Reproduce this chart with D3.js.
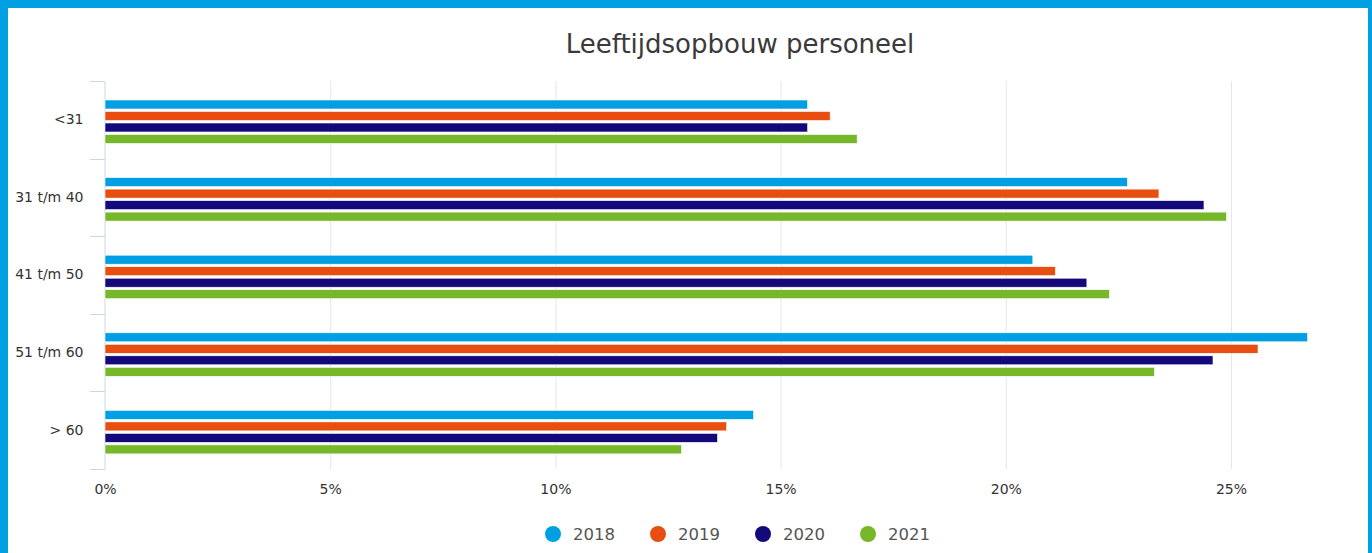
<!DOCTYPE html>
<html><head><meta charset="utf-8">
<script src="https://cdn.jsdelivr.net/npm/d3@7"></script>
<style>
html,body{margin:0;padding:0;background:#fff;}
svg{display:block;}
</style></head>
<body>
<svg id="c" width="1372" height="553"></svg>
<script>
const title = "Leeftijdsopbouw personeel";
const categories = ["<31", "31 t/m 40", "41 t/m 50", "51 t/m 60", "> 60"];
const seriesNames = ["2018", "2019", "2020", "2021"];
const s2018 = [15.6, 22.7, 20.6, 26.7, 14.4];
const s2019 = [16.1, 23.4, 21.1, 25.6, 13.8];
const s2020 = [15.6, 24.4, 21.8, 24.6, 13.6];
const s2021 = [16.7, 24.9, 22.3, 23.3, 12.8];
const xTicks = [0, 5, 10, 15, 20, 25];
const colors = ["#009fe3", "#e84e0f", "#14097a", "#76b82a"];

const series = [s2018, s2019, s2020, s2021];
const svg = d3.select("#c");
const font = "'DejaVu Sans', Verdana, sans-serif";

// border
svg.append("rect").attr("x",0).attr("y",0).attr("width",1372).attr("height",553).attr("fill","#00a0e3");
svg.append("rect").attr("x",8).attr("y",8).attr("width",1360).attr("height",545).attr("fill","#fff");

const x = d3.scaleLinear().domain([0,25]).range([105,1231]);
const y = d3.scaleBand().domain(categories).range([81,469]);
const yInner = d3.scaleBand().domain(seriesNames).range([19, 62.5]).paddingInner(2.5/11.5).paddingOuter(0);

svg.append("text").attr("x",740).attr("y",53).attr("text-anchor","middle")
  .attr("font-family",font).attr("font-size",26).attr("fill","#3a3a3a").text(title);

// gridlines
svg.append("g").selectAll("line").data(xTicks.slice(1)).join("line")
  .attr("x1",d=>x(d)+0.5).attr("x2",d=>x(d)+0.5).attr("y1",81).attr("y2",469)
  .attr("stroke","#e6e6e6").attr("stroke-width",1);

// x axis labels
const xAxis = d3.axisBottom(x).tickValues(xTicks).tickSize(0).tickPadding(0).tickFormat(d=>d+"%");
const gx = svg.append("g").attr("transform","translate(0,484)").call(xAxis);
gx.select(".domain").remove();
gx.selectAll("text").attr("font-family",font).attr("font-size",14).attr("fill","#333");

// y axis
const yAxis = d3.axisLeft(y).tickSize(0).tickPadding(21);
const gy = svg.append("g").attr("transform","translate(104.5,0)").call(yAxis);
gy.select(".domain").attr("stroke","#ccd6eb");
gy.selectAll("text").attr("font-family",font).attr("font-size",14).attr("fill","#333");
// band boundary ticks
const bounds = categories.map(c=>y(c)).concat([y.range()[1]]);
svg.append("g").selectAll("line").data(bounds).join("line")
  .attr("x1",90).attr("x2",105).attr("y1",d=>Math.round(d)+0.5).attr("y2",d=>Math.round(d)+0.5)
  .attr("stroke","#ccd6eb").attr("stroke-width",1);

// bars
series.forEach((vals,si)=>{
  svg.append("g").selectAll("rect").data(vals).join("rect")
    .attr("x",x(0)).attr("y",(d,i)=>y(categories[i])+yInner(seriesNames[si]))
    .attr("width",d=>x(d)-x(0)).attr("height",yInner.bandwidth())
    .attr("fill",colors[si]).attr("stroke","#fff").attr("stroke-width",0.6);
});

// legend
const legX = [553, 658, 763, 868];
const lg = svg.append("g").selectAll("g").data(seriesNames).join("g")
  .attr("transform",(d,i)=>`translate(${legX[i]},534)`);
lg.append("circle").attr("r",8).attr("fill",(d,i)=>colors[i]);
lg.append("text").attr("x",20).attr("y",6).attr("font-family",font).attr("font-size",16.5)
  .attr("fill","#555").text(d=>d);
</script>
</body></html>
